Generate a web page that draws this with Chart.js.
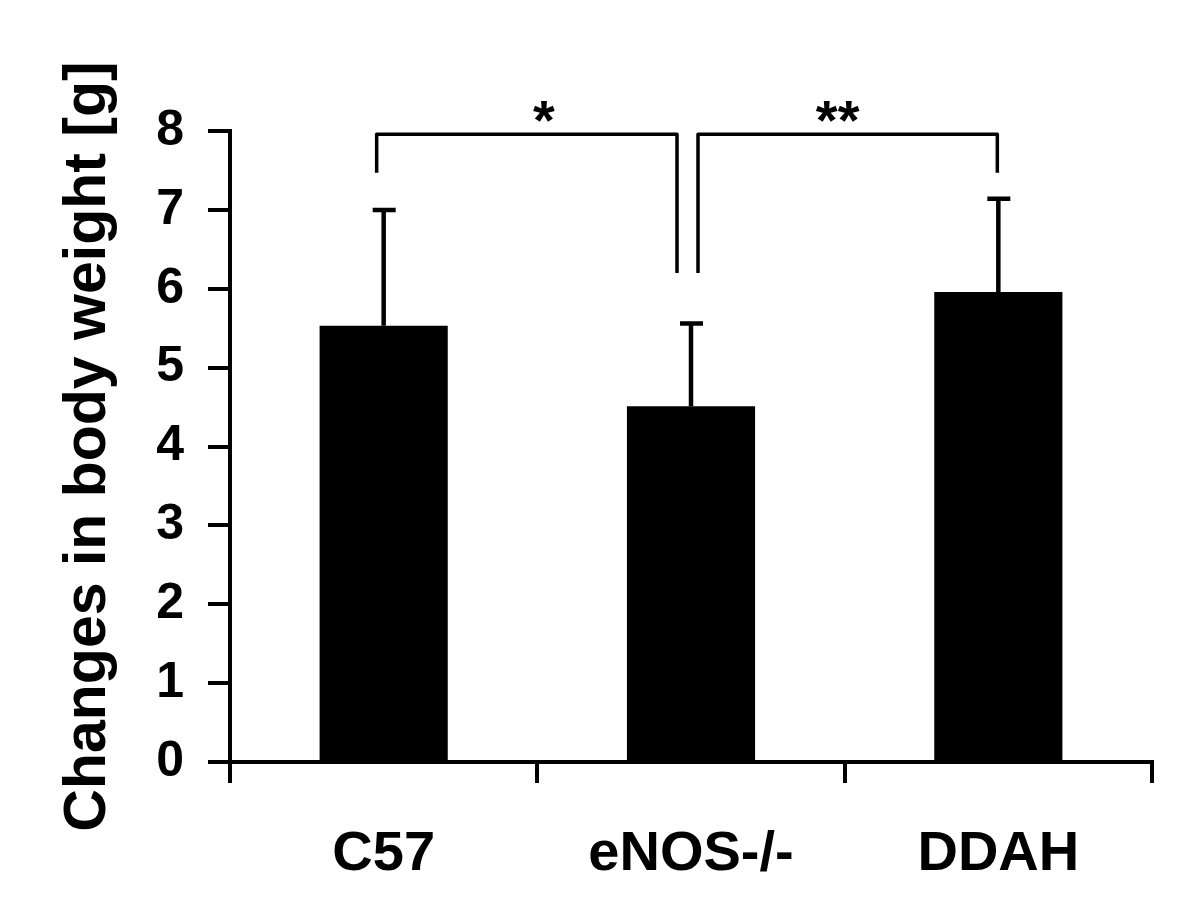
<!DOCTYPE html>
<html>
<head>
<meta charset="utf-8">
<script src="https://cdn.jsdelivr.net/npm/chart.js@4.4.1/dist/chart.umd.min.js"></script>
<style>
html,body{margin:0;padding:0;background:#fff}
canvas{display:block}
</style>
</head>
<body>
<canvas id="bwChart" width="1200" height="922"></canvas>
<script>
/* ---------- data ---------- */
const groups     = ['C57', 'eNOS-/-', 'DDAH'];
const meanGain   = [5.53, 4.51, 5.96];   // g
const sdGain     = [1.47, 1.05, 1.18];   // upper error only
const yMin = 0, yMax = 8, yStep = 1;
const sigPairs   = [[0, 1], [1, 2]];
const sigLabels  = ['*', '**'];
const sigTop     = 7.96;                  // bracket height (axis units)
const sigLegEnds = [[7.47, 6.2], [6.2, 7.47]];

const FONT = '"Liberation Sans", Arial, Helvetica, sans-serif';

/* ---------- error bars + significance brackets ---------- */
const legShift  = [[-7, -14], [7, -1]];  // px nudges of bracket legs
const starShift = [17, -10];             // px nudges of the star labels
const annotPlugin = {
  id: 'annot',
  afterDatasetsDraw(chart) {
    const ctx = chart.ctx, y = chart.scales.y;
    const bars = chart.getDatasetMeta(0).data;
    ctx.save();
    ctx.strokeStyle = '#000';
    ctx.lineCap = 'butt';
    // error bars
    ctx.lineWidth = 4.5;
    bars.forEach((b, i) => {
      const top = y.getPixelForValue(meanGain[i] + sdGain[i]);
      ctx.beginPath();
      ctx.moveTo(b.x, b.y);
      ctx.lineTo(b.x, top);
      ctx.moveTo(b.x - 11, top);
      ctx.lineTo(b.x + 12, top);
      ctx.stroke();
    });
    // brackets
    ctx.lineWidth = 3.5;
    ctx.lineJoin = 'round';
    ctx.fillStyle = '#000';
    ctx.font = 'bold 56px ' + FONT;
    ctx.textAlign = 'center';
    ctx.textBaseline = 'alphabetic';
    const yt = y.getPixelForValue(sigTop);
    sigPairs.forEach((p, k) => {
      const x1 = bars[p[0]].x + legShift[k][0];
      const x2 = bars[p[1]].x + legShift[k][1];
      ctx.beginPath();
      ctx.moveTo(x1, y.getPixelForValue(sigLegEnds[k][0]));
      ctx.lineTo(x1, yt);
      ctx.lineTo(x2, yt);
      ctx.lineTo(x2, y.getPixelForValue(sigLegEnds[k][1]));
      ctx.stroke();
      ctx.fillText(sigLabels[k], (x1 + x2) / 2 + starShift[k], yt + 5);
    });
    ctx.restore();
  }
};

/* ---------- chart ---------- */
new Chart(document.getElementById('bwChart').getContext('2d'), {
  type: 'bar',
  data: {
    labels: groups,
    datasets: [{
      data: meanGain,
      backgroundColor: '#000',
      borderWidth: 0,
      categoryPercentage: 1,
      barPercentage: 0.417
    }]
  },
  options: {
    responsive: false,
    animation: false,
    layout: { padding: { left: 0, top: 131, right: 48, bottom: 0 } },
    plugins: { legend: { display: false }, tooltip: { enabled: false } },
    scales: {
      x: {
        afterFit: s => { s.height = 160; },
        grid: { offset: true, drawOnChartArea: false, drawTicks: true, tickLength: 21, lineWidth: 4, color: '#000' },
        border: { display: true, width: 4, color: '#000' },
        ticks: { color: '#000', padding: 38, font: { family: FONT, size: 56, weight: 'bold' } }
      },
      y: {
        min: yMin, max: yMax,
        afterFit: s => { s.width = 230; },
        grid: { drawOnChartArea: false, drawTicks: true, tickLength: 22, lineWidth: 4, color: '#000' },
        border: { display: true, width: 4, color: '#000' },
        ticks: { stepSize: yStep, color: '#000', padding: 24, font: { family: FONT, size: 50, weight: 'bold' } },
        title: {
          display: true,
          text: 'Changes in body weight [g]',
          color: '#000',
          padding: { top: 53, bottom: 0 },
          font: { family: FONT, size: 59, weight: 'bold' }
        }
      }
    }
  },
  plugins: [annotPlugin]
});
</script>
</body>
</html>
